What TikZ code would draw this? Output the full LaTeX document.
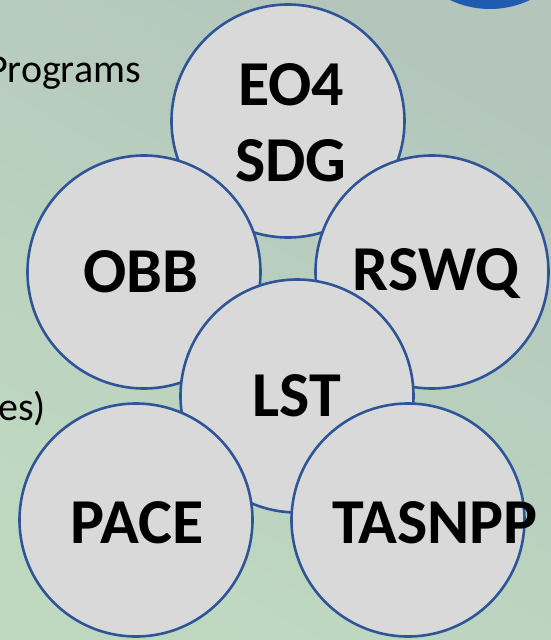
\documentclass[tikz,border=0pt]{standalone}
\usepackage{fontspec}
\setmainfont{Carlito}
\usetikzlibrary{positioning}

\definecolor{bgtop}{HTML}{B4C6BC}
\definecolor{bgbot}{HTML}{BFD9C1}
\definecolor{ringblue}{HTML}{2F5597}
\definecolor{discgray}{HTML}{D9D9D9}
\definecolor{dotblue}{HTML}{1F5CAF}

\begin{document}
\begin{tikzpicture}[x=1pt, y=-1pt,
    disc/.style={circle, fill=discgray, draw=ringblue, line width=2.6pt, minimum size=233pt, inner sep=0pt},
    tag/.style={font=\fontsize{64}{76}\selectfont\bfseries, anchor=base, align=center, inner sep=0pt},
    side/.style={font=\fontsize{40}{44}\selectfont, anchor=base east, inner sep=0pt}]
  \useasboundingbox (0,0) rectangle (551,640);
  \clip (0,0) rectangle (551,640);

  % Background
  \shade[top color=bgtop, bottom color=bgbot, shading angle=-30] (0,0) rectangle (551,640);

  % Cut-off pieces at the edges
  \fill[dotblue] (490,-84) circle (93);
  \node[side] (prog) at (141,82) {Programs};
  \node[side] (ies) at (46,420) {es)};

  % Discs, drawn back to front
  \foreach \nm/\cx/\cy in {eo/288/121, obb/144/272, rswq/432/272, lst/297/396, pace/136/520, tas/408/520}
    \node[disc] (\nm) at (\cx,\cy) {};

  % Labels
  \node[tag] (eo-lbl) at (291,181) {EO4\\SDG};
  \node[tag] (obb-lbl) at (141,292) {OBB};
  \node[tag] (rswq-lbl) at (436,290) {RSWQ};
  \node[tag] (lst-lbl) at (297,416) {LST};
  \node[tag] (pace-lbl) at (137,543) {PACE};
  \node[tag] (tas-lbl) at (435,543) {TASNPP};
\end{tikzpicture}
\end{document}
